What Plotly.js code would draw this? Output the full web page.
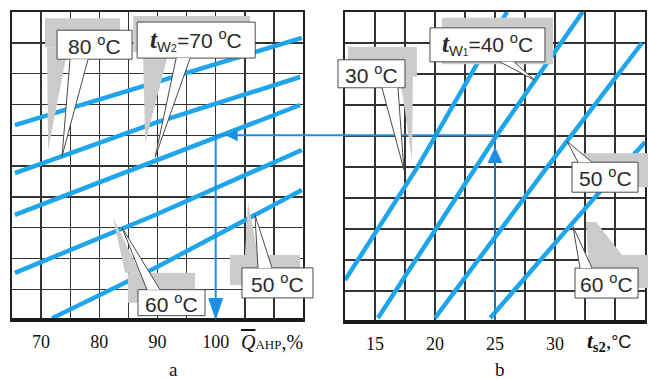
<!DOCTYPE html>
<html><head><meta charset="utf-8">
<script src="https://cdn.plot.ly/plotly-3.0.1.min.js"></script>
<style>html,body{margin:0;padding:0;background:#fff}#chart{width:648px;height:380px}</style>
</head><body><div id="chart"></div>
<script>
// ---- tick labels ----
const qTicks = [70,80,90,100];
const qTickText = ['70','80','90','100'];
const qGridStep = 5;
const tTicks = [15,20,25,30];
const tTickText = ['15','20','25','30'];
const tGridStep = 2.5;

// ---- panel a: lines of constant t_w2 (x = Q_AHP %, y = relative scale 0..10) ----
const tw2_90_x = [65.5, 88.4, 114.8], tw2_90_y = [6.33, 7.63, 9.16];
const tw2_80_x = [65.5, 89.6, 114.5], tw2_80_y = [4.77, 6.40, 7.89];
const tw2_70_x = [65.5, 89.6, 114.5], tw2_70_y = [3.41, 5.16, 6.98];
const tw2_60_x = [65.5, 89.6, 114.8], tw2_60_y = [1.53, 3.41, 5.52];
const tw2_50_x = [71.9, 89.6, 114.8], tw2_50_y = [0.06, 1.69, 4.22];

// ---- panel b: lines of constant t_w1 (x = t_s2 °C) ----
const tw1_30_x = [12.5, 18.5, 26.0],  tw1_30_y = [1.35, 4.97, 10.0];
const tw1_40_x = [15.25, 25.1, 32.3], tw1_40_y = [0.13, 6.0, 10.0];
const tw1_50_x = [20.0, 29.3, 37.25], tw1_50_y = [0.13, 4.97, 9.0];
const tw1_60_x = [24.6, 33.5, 37.5],  tw1_60_y = [0.13, 4.1, 5.8];

// ---- worked example ----
const exQ = 100, exT = 25, exLevel = 6;

const LINE = '#1ea5ec', ARROW = '#1b8fe6', SHADOW = '#cbcbcb', BORDER = '#4a4a4a', GRID = '#333333';

const AX = {
  a: {xr:[65,115],   xd:[12/648, 303/648], yr:[0,10], yd:[1-320/380, 1-12/380]},
  b: {xr:[12.5,37.5], xd:[345/648, 645/648], yr:[0,10], yd:[1-322/380, 1-12/380]}
};
function toPaper(p, x, y){
  const a = AX[p];
  return [a.xd[0] + (x-a.xr[0])/(a.xr[1]-a.xr[0])*(a.xd[1]-a.xd[0]),
          a.yd[0] + (y-a.yr[0])/(a.yr[1]-a.yr[0])*(a.yd[1]-a.yd[0])];
}
function interp(xs, ys, x){
  for(let i=0;i<xs.length-1;i++){
    if(x<=xs[i+1] || i===xs.length-2){
      const t=(x-xs[i])/(xs[i+1]-xs[i]); return ys[i]+t*(ys[i+1]-ys[i]);
    }
  }
}

const traces = [];
function addLine(xs, ys, ax){
  traces.push({x:xs, y:ys, xaxis:ax==='a'?'x':'x2', yaxis:ax==='a'?'y':'y2', mode:'lines',
    line:{color:LINE, width:4.5}, hoverinfo:'skip'});
}
addLine(tw2_90_x, tw2_90_y, 'a'); addLine(tw2_80_x, tw2_80_y, 'a'); addLine(tw2_70_x, tw2_70_y, 'a');
addLine(tw2_60_x, tw2_60_y, 'a'); addLine(tw2_50_x, tw2_50_y, 'a');
addLine(tw1_30_x, tw1_30_y, 'b'); addLine(tw1_40_x, tw1_40_y, 'b'); addLine(tw1_50_x, tw1_50_y, 'b'); addLine(tw1_60_x, tw1_60_y, 'b');

// example arrows (vertical parts)
traces.push({x:[exQ,exQ], y:[exLevel,0], xaxis:'x', yaxis:'y', mode:'lines', line:{color:ARROW,width:2}, hoverinfo:'skip'});
traces.push({x:[exT,exT], y:[0,exLevel], xaxis:'x2', yaxis:'y2', mode:'lines', line:{color:ARROW,width:1.3}, hoverinfo:'skip'});

const shapes = [];
const annotations = [];

// frame bottoms
['x','x2'].forEach((xa,i)=>{
  const ya = i===0?'y':'y2';
  shapes.push({type:'line', xref:xa+' domain', yref:ya+' domain', x0:0, x1:1, y0:0, y1:0, line:{color:'#1a1a1a', width:4}});
});

// horizontal part of the example arrow (crosses the gap between panels)
const hA = toPaper('a', exQ, exLevel), hB = toPaper('b', exT, exLevel);
shapes.push({type:'line', xref:'paper', yref:'paper', x0:hA[0], x1:hB[0], y0:hA[1], y1:hA[1], line:{color:ARROW,width:2}});

function pixShape(anchor, extra){
  return Object.assign({xref:'paper', yref:'paper', xsizemode:'pixel', ysizemode:'pixel',
    xanchor:anchor[0], yanchor:anchor[1]}, extra);
}
function poly(pts, close){ return 'M' + pts.map(p=>p[0]+','+p[1]).join(' L') + (close?' Z':''); }

// arrowheads
shapes.push(pixShape(toPaper('a', exQ, 0), {type:'path', path:poly([[0,0],[-7.5,22],[7.5,22]],true), fillcolor:ARROW, line:{width:0}}));
shapes.push(pixShape(hA, {type:'path', path:poly([[10,0],[22,6],[22,-6]],true), fillcolor:ARROW, line:{width:0}}));
shapes.push(pixShape(toPaper('b', exT, exLevel), {type:'path', path:poly([[0,-11],[-7.5,-27],[7.5,-27]],true), fillcolor:ARROW, line:{width:0}}));

// callouts: anchored on a curve point; geometry in pixels relative to that point (y up)
const SANS = 'Liberation Sans', SERIF = 'Liberation Serif';
const deg = ' <sup>o</sup>C';
const callouts = [
  {p:'a', xs:tw2_80_x, ys:tw2_80_y, at:73.6, text:'80'+deg,
   box:[-5,70,97,126], wedge:[[8,97],[0,0],[26,97]], sbox:[-17,58,109,138], spoly:[[-15,109],[6,109],[-14,6]], tp:[32.5,111.5]},
  {p:'a', xs:tw2_70_x, ys:tw2_70_y, at:89.6,
   text:'<span style="font-family:Liberation Serif;font-size:25px"><b><i>t</i></b></span><sub>W<span style="font-size:11px">2</span></sub>=70'+deg,
   box:[-18,100,103,139], wedge:[[21,103],[0,4],[35,103]], sbox:[-22,95,109,145], spoly:[[-12,103],[12,103],[-10,18]], tp:[41,121]},
  {p:'a', xs:tw2_60_x, ys:tw2_60_y, at:83.9, text:'60'+deg,
   box:[16,83,-87,-61], wedge:[[25,-61],[0,1],[38,-61]], sbox:[6,73,-74,-44], spoly:[[-9,11],[3,-44],[18,-44]], tp:[49.5,-74]},
  {p:'a', xs:tw2_50_x, ys:tw2_50_y, at:106.75, text:'50'+deg,
   box:[-13,58,-83,-53], wedge:[[3,-53],[0,0],[17,-53]], sbox:[-25,45,-70,-40], spoly:[[-10,-40],[3,-40],[-7,13]], tp:[22.5,-68]},
  {p:'b', xs:tw1_30_x, ys:tw1_30_y, at:18.08, text:'30'+deg,
   box:[-74,-7,88,116], wedge:[[-30,88],[-8,6],[-14,88]], sbox:[-64,5,99,129], spoly:[[-12,99],[1,99],[0,16]], tp:[-40.5,102]},
  {p:'b', xs:tw1_40_x, ys:tw1_40_y, at:28.33,
   text:'<span style="font-family:Liberation Serif;font-size:25px"><b><i>t</i></b></span><sub>W<span style="font-size:10px">1</span></sub>=40'+deg,
   box:[-105,10,18.5,52.5], wedge:[[-35,18.5],[0,0],[-21,18.5]], sbox:[-93,18,16,62.5], spoly:null, tp:[-47,35.5]},
  {p:'b', xs:tw1_50_x, ys:tw1_50_y, at:31, text:'50'+deg,
   box:[5,71,-51,-21], wedge:[[11,-21],[0,0],[25,-21]], sbox:[15,81,-46,-12], spoly:null, tp:[38,-36]},
  {p:'b', xs:tw1_60_x, ys:tw1_60_y, at:31.5, text:'60'+deg,
   box:[2,65,-75.5,-45.5], wedge:[[7,-45.5],[0,-4],[19,-45.5]], sbox:null,
   spoly:[[13,0.5],[23,0.5],[49,-32.5],[75,-32.5],[75,-65.5],[17,-65.5]], tp:[33.5,-60.5]}
];

callouts.forEach(c=>{
  const anc = toPaper(c.p, c.at, interp(c.xs, c.ys, c.at));
  if(c.sbox) shapes.push(pixShape(anc, {type:'rect', x0:c.sbox[0], x1:c.sbox[1], y0:c.sbox[2], y1:c.sbox[3], fillcolor:SHADOW, line:{width:0}}));
  if(c.spoly) shapes.push(pixShape(anc, {type:'path', path:poly(c.spoly,true), fillcolor:SHADOW, line:{width:0}}));
  shapes.push(pixShape(anc, {type:'rect', x0:c.box[0], x1:c.box[1], y0:c.box[2], y1:c.box[3], fillcolor:'#fff', line:{color:BORDER, width:1}}));
  shapes.push(pixShape(anc, {type:'path', path:poly(c.wedge,true), fillcolor:'#fff', line:{width:0}}));
  shapes.push(pixShape(anc, {type:'path', path:poly(c.wedge,false), line:{color:BORDER, width:1}}));
  annotations.push({xref:'paper', yref:'paper', x:anc[0], y:anc[1], xshift:c.tp[0], yshift:c.tp[1],
    text:c.text, showarrow:false, xanchor:'center', yanchor:'middle', font:{family:SANS, size:21, color:'#2a2a2a'}});
});

// axis titles and captions
annotations.push({xref:'paper', yref:'paper', x:239/648, y:1-342/380, xanchor:'left', yanchor:'middle', showarrow:false,
  text:'<i><span style="text-decoration:overline">Q</span></i><span style="font-size:13px">AHP</span>,%',
  font:{family:SERIF, size:20, color:'#111'}});
annotations.push({xref:'paper', yref:'paper', x:585/648, y:1-342/380, xanchor:'left', yanchor:'middle', showarrow:false,
  text:'<b><i>t</i></b><sub><b>s2</b></sub>,<span style="font-family:Liberation Sans;font-size:18px">°C</span>',
  font:{family:SERIF, size:21, color:'#111'}});
annotations.push({xref:'paper', yref:'paper', x:173/648, y:1-369/380, xanchor:'center', yanchor:'middle', showarrow:false,
  text:'a', font:{family:SERIF, size:19, color:'#111'}});
annotations.push({xref:'paper', yref:'paper', x:500/648, y:1-369/380, xanchor:'center', yanchor:'middle', showarrow:false,
  text:'b', font:{family:SERIF, size:19, color:'#111'}});

function xAxis(p, vals, txt, step, anchor){
  return {domain:AX[p].xd, range:AX[p].xr, tickvals:vals, ticktext:txt, showgrid:true, gridcolor:GRID, gridwidth:1.4,
    minor:{tick0:AX[p].xr[0], dtick:step, showgrid:true, gridcolor:GRID, gridwidth:1.4, ticks:''},
    showline:true, mirror:true, linecolor:'#222', linewidth:2, ticks:'', ticklabelstandoff:4, zeroline:false,
    tickfont:{family:SERIF, size:18, color:'#111'}, anchor:anchor, fixedrange:true};
}
function yAxis(p, anchor){
  return {domain:AX[p].yd, range:AX[p].yr, tick0:0, dtick:1, showticklabels:false, showgrid:true, gridcolor:GRID, gridwidth:1.4,
    showline:true, mirror:true, linecolor:'#222', linewidth:2, ticks:'', zeroline:false, anchor:anchor, fixedrange:true};
}

const layout = {
  width:648, height:380, margin:{l:0,r:0,t:0,b:0}, paper_bgcolor:'#fff', plot_bgcolor:'#fff', showlegend:false,
  xaxis:xAxis('a', qTicks, qTickText, qGridStep, 'y'), yaxis:yAxis('a','x'),
  xaxis2:xAxis('b', tTicks, tTickText, tGridStep, 'y2'), yaxis2:yAxis('b','x2'),
  shapes:shapes, annotations:annotations
};
Plotly.newPlot('chart', traces, layout, {staticPlot:true});
</script></body></html>
